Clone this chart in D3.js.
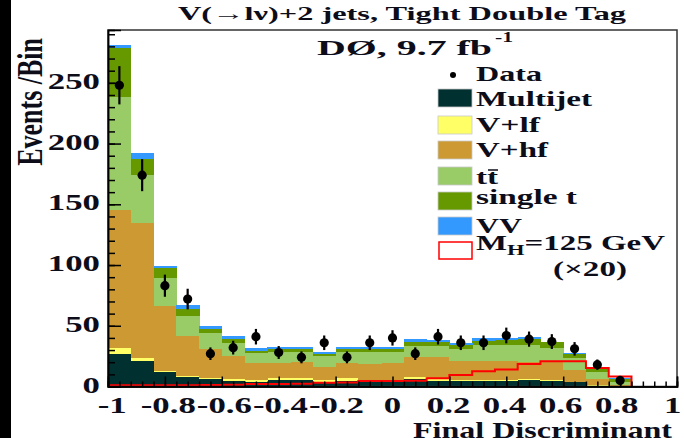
<!DOCTYPE html>
<html><head><meta charset="utf-8">
<script src="https://cdn.jsdelivr.net/npm/d3@7"></script>
<style>
html,body{margin:0;padding:0;background:#fff;}
svg{display:block;}
text{font-family:"Liberation Serif","Times New Roman",serif;font-weight:bold;fill:#0d0d1a;}
</style></head><body>
<svg id="c" width="684" height="438"></svg>
<script>
// ---- data ----
const binLow = [-1,-0.92,-0.84,-0.76,-0.68,-0.6,-0.52,-0.44,-0.36,-0.28,-0.2,-0.12,-0.04,0.04,0.12,0.2,0.28,0.36,0.44,0.52,0.6,0.68,0.76,0.84,0.92];
const binWidth = 0.08;
const multijet = [26.5,21.3,12,7.6,6.2,4.5,4,5.3,5.3,4,4.8,4.5,4.5,6.4,4.8,4.5,4.5,4.5,5,4.5,3.5,0.8,0.3,0,0];
const vlf      = [4.9,1.9,1,1,1.1,1.4,1.3,1.4,2,1.3,1.9,1,1,1.6,1,1,1,1,1.2,0.5,0.5,0.4,0.2,0,0];
const vhf      = [113.6,111.8,53,33,23.6,19.2,13.8,12.9,13.1,11,12.4,13,14,16.5,18.2,15.5,15.5,15.5,14.2,15.4,9.6,4.7,1,0,0];
const ttbar    = [93.5,39,23.7,16.7,12.9,10.9,8.2,9.1,8.3,9.1,9.6,9.6,9.2,8.8,9.3,10,13,13.2,13.8,11,9.6,6.3,2.5,0,0];
const singlet  = [40.5,13.5,7.6,5.2,3.8,3.4,2.2,1.9,1.9,1.3,1.9,2.5,1.9,3.6,3.2,3.5,3.7,4.3,4.8,4.9,3.8,1.9,2.5,0,0];
const vv       = [2.5,4.5,2,3.5,2.2,2.2,1.9,1.6,1.6,2,1.6,1.6,1.6,1.9,1.8,1.7,1.9,1.5,1.5,0.6,0.8,0.4,0.3,0,0];
const signal20 = [1,1,1,1,1.2,1.5,2,2,2.2,3,3.2,4.5,4.6,4.8,6.7,9.5,12.5,14,18.5,20.8,20.8,15.3,8.3,0,0];
const dataObs  = [248,174,83,72,27,32,41,28,24,36,24,36,40,27,41,36,36,42,39,37,31,18,5,0,0];
const xTicksMajor = [-1,-0.8,-0.6,-0.4,-0.2,0,0.2,0.4,0.6,0.8,1];
const xTickLabels = ["-1","-0.8","-0.6","-0.4","-0.2","0","0.2","0.4","0.6","0.8","1"];
const yTicksMajor = [0,50,100,150,200,250];
const seriesNames = ["Multijet","V+lf","V+hf","tt","single t","VV"];
const seriesColors = ["#003030","#ffff66","#cc9933","#99cc66","#669900","#3399ff"];

// ---- layout ----
const svg = d3.select("#c");
const X0 = 108, X1 = 677, Y0 = 386.5, Y1 = 30;
const x = d3.scaleLinear().domain([-1,1]).range([X0,X1]);
const y = d3.scaleLinear().domain([0,293.5]).range([Y0,Y1]);
const SX = 1.45;

svg.append("rect").attr("x",0).attr("y",0).attr("width",11).attr("height",438).attr("fill","#000");

// stacked histogram
const rows = binLow.map((lo,i)=>({lo, Multijet:multijet[i], "V+lf":vlf[i], "V+hf":vhf[i], tt:ttbar[i], "single t":singlet[i], VV:vv[i]}));
const stack = d3.stack().keys(seriesNames)(rows);
const gH = svg.append("g").attr("shape-rendering","crispEdges");
stack.forEach((layer,li)=>{
  gH.selectAll(null).data(layer).join("rect")
    .attr("x",d=>x(d.data.lo))
    .attr("width",d=>x(d.data.lo+binWidth)-x(d.data.lo)+0.5)
    .attr("y",d=>y(d[1]))
    .attr("height",d=>Math.max(0,y(d[0])-y(d[1])))
    .attr("fill",seriesColors[li]);
});

// signal step line
const lastNZ = d3.max(signal20.map((v,i)=>v>0?i:-1));
const sigLine = binLow.slice(0,lastNZ+1).map((lo,i)=>[lo,signal20[i]])
  .concat([[binLow[lastNZ]+binWidth,signal20[lastNZ]],[binLow[lastNZ]+binWidth,0]]);
svg.append("path")
  .attr("d",d3.line().x(d=>x(d[0])).y(d=>y(d[1])).curve(d3.curveStepAfter)(sigLine))
  .attr("fill","none").attr("stroke","#ff0000").attr("stroke-width",2);

// data points
const pts = binLow.map((lo,i)=>({c:lo+binWidth/2,v:dataObs[i]})).filter(d=>d.v>0);
const gD = svg.append("g");
gD.selectAll(null).data(pts).join("line")
  .attr("x1",d=>x(d.c)).attr("x2",d=>x(d.c))
  .attr("y1",d=>y(d.v+Math.sqrt(d.v))).attr("y2",d=>y(Math.max(0,d.v-Math.sqrt(d.v))))
  .attr("stroke","#000").attr("stroke-width",2.2);
gD.selectAll(null).data(pts).join("circle")
  .attr("cx",d=>x(d.c)).attr("cy",d=>y(d.v)).attr("r",4.6).attr("fill","#000");

// frame
svg.append("rect").attr("x",X0).attr("y",Y1).attr("width",X1-X0).attr("height",Y0-Y1)
  .attr("fill","none").attr("stroke","#333").attr("stroke-width",1.5);

// axes ticks (inside)
const xMinor = d3.range(-1,1.0001,0.04);
const axB1 = d3.axisBottom(x).tickValues(xMinor).tickSize(-5).tickFormat("");
const axB2 = d3.axisBottom(x).tickValues(xTicksMajor).tickSize(-10).tickFormat("");
[axB1,axB2].forEach(a=>{
  const g = svg.append("g").attr("transform",`translate(0,${Y0})`).call(a);
  g.select(".domain").attr("stroke","#000").attr("stroke-width",1.5);
  g.selectAll(".tick line").attr("stroke","#000").attr("stroke-width",1.5);
});
const yMinor = d3.range(0,291,10);
const axL1 = d3.axisLeft(y).tickValues(yMinor).tickSize(-7).tickFormat("");
const axL2 = d3.axisLeft(y).tickValues(yTicksMajor).tickSize(-13).tickFormat("");
[axL1,axL2].forEach(a=>{
  const g = svg.append("g").attr("transform",`translate(${X0},0)`).call(a);
  g.select(".domain").attr("stroke","#000").attr("stroke-width",1.5);
  g.selectAll(".tick line").attr("stroke","#000").attr("stroke-width",1.5);
});

// tick labels
const xMid = x(0);
xTicksMajor.forEach((t,i)=>{
  const lx = xMid + (x(t)-xMid)*0.985;
  svg.append("text").attr("transform",`translate(${lx},${Y0+26}) scale(${SX},1)`)
    .attr("text-anchor","middle").attr("font-size",24).text(xTickLabels[i]);
});
yTicksMajor.forEach(t=>{
  svg.append("text").attr("transform",`translate(100,${y(t)+6}) scale(${SX},1)`)
    .attr("text-anchor","end").attr("font-size",24).text(t);
});

// axis titles
svg.append("text").attr("transform",`translate(42,38) scale(1.35,1) rotate(-90)`)
  .attr("text-anchor","end").attr("font-size",26).attr("font-weight","normal").text("Events /Bin");
function ftext(str,x0,base,size,w){
  return svg.append("text").attr("x",x0).attr("y",base).attr("font-size",size)
    .attr("textLength",w).attr("lengthAdjust","spacingAndGlyphs").text(str);
}
ftext("Final Discriminant",413,438,24,259);

// title
ftext("V(\u2192l\u03bd)+2 jets, Tight Double Tag",178,20,19,448);
ftext("D\u00d8, 9.7 fb",317,55,22,175);
ftext("-1",495,42,15,18);

// legend
svg.append("circle").attr("cx",453).attr("cy",75).attr("r",3).attr("fill","#000");
ftext("Data",476,81,22,66);
const legRows = [
  {name:"Multijet",yb:89,base:106,w:116},
  {name:"V+lf",yb:116,base:132,w:64},
  {name:"V+hf",yb:141,base:157,w:72},
  {name:"tt",yb:167,base:184,w:22},
  {name:"single t",yb:192,base:204,w:101},
  {name:"VV",yb:217,base:233,w:46}
];
legRows.forEach((r,i)=>{
  svg.append("rect").attr("x",438).attr("y",r.yb).attr("width",34).attr("height",18)
    .attr("fill",seriesColors[i]).attr("stroke","#c8c8c8").attr("stroke-width",0.8);
  ftext(r.name,476,r.base,22,r.w);
});
// tt-bar overline
svg.append("line").attr("x1",488).attr("x2",498).attr("y1",170).attr("y2",170).attr("stroke","#0d0d1a").attr("stroke-width",1.5);
svg.append("rect").attr("x",439).attr("y",242).attr("width",33).attr("height",17)
  .attr("fill","none").attr("stroke","#ff0000").attr("stroke-width",1.5);
const mh = svg.append("text").attr("x",476).attr("y",250).attr("font-size",22);
mh.append("tspan").text("M");
mh.append("tspan").attr("font-size",15).attr("dy",5).text("H");
mh.append("tspan").attr("dy",-5).text("=125 GeV");
mh.attr("textLength",189).attr("lengthAdjust","spacingAndGlyphs");
ftext("(\u00d720)",553,276,22,74);
</script>
</body></html>
